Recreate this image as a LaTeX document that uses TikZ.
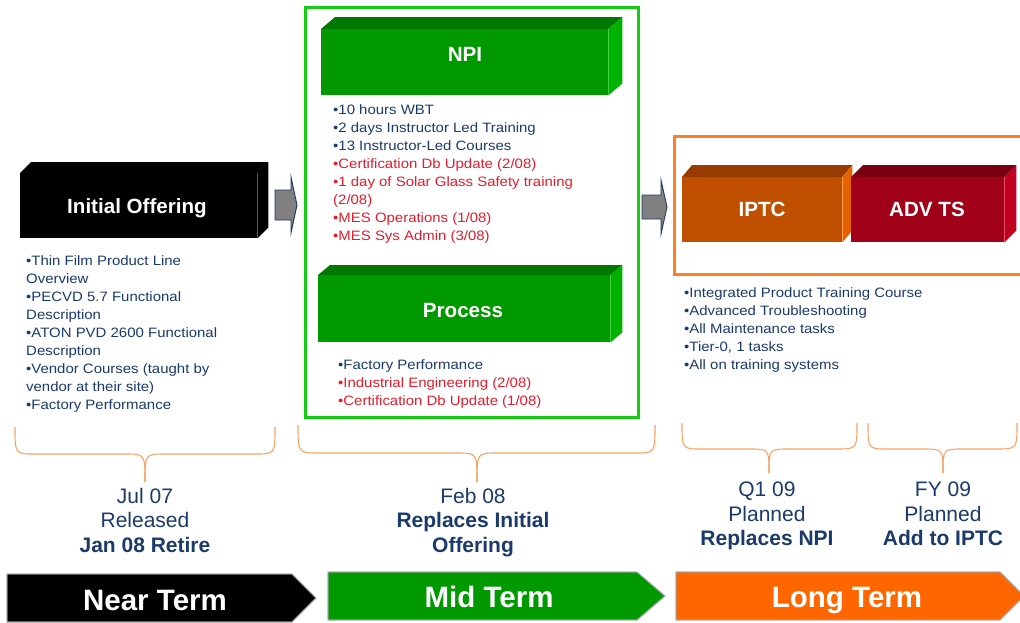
\documentclass[tikz,border=0pt]{standalone}
\usepackage{fontspec}
\setmainfont{Liberation Sans}
\newfontfamily\bodyfont[FakeStretch=1.1]{Liberation Sans}
\usetikzlibrary{calc}

\definecolor{navy}{HTML}{1B3A6C}
\definecolor{alertred}{HTML}{E31D2D}
\definecolor{framegreen}{HTML}{14CC14}
\definecolor{frameorange}{HTML}{FF8020}
\definecolor{braceorange}{HTML}{F7A467}
\definecolor{arrowgray}{HTML}{808080}
\definecolor{arrowedge}{HTML}{1F3864}
\definecolor{grfront}{HTML}{009A00}
\definecolor{grtop}{HTML}{007800}
\definecolor{grside}{HTML}{00B200}
\definecolor{grlight}{HTML}{40D040}
\definecolor{orfront}{HTML}{C04F00}
\definecolor{ortop}{HTML}{963C00}
\definecolor{orside}{HTML}{E46200}
\definecolor{orlight}{HTML}{FFA050}
\definecolor{rdfront}{HTML}{A00018}
\definecolor{rdtop}{HTML}{78000F}
\definecolor{rdside}{HTML}{C2001F}
\definecolor{rdlight}{HTML}{E8506A}
\definecolor{bannergreen}{HTML}{009900}
\definecolor{bannerorange}{HTML}{FF6600}

\tikzset{
  face/.style={draw=none, inner sep=0pt, anchor=north west},
  boxtitle/.style={anchor=base, inner sep=0pt, text=white,
    font=\fontsize{20.6}{24}\selectfont\bfseries},
  bullets/.style={anchor=north west, inner sep=0pt, align=left, text=navy,
    font=\bodyfont\fontsize{13.6}{18}\selectfont},
  datelabel/.style={anchor=north, inner sep=0pt, align=center, text=navy,
    font=\fontsize{21}{24.5}\selectfont},
  bannertext/.style={anchor=base, inner sep=0pt, text=white,
    font=\fontsize{29.5}{32}\selectfont\bfseries},
  brace/.style={draw=braceorange, line width=1.1pt},
  blockarrow/.style={fill=arrowgray, draw=arrowedge, line width=0.9pt, line join=miter},
  frame/.style={line width=3pt},
  banner/.style={draw=gray!70, line width=0.8pt}
}

% top and side faces of a box whose front face is the node #1
% #2,#3: depth offset; #4 top colour; #5 side colour; #6 edge highlight
\newcommand\prismfaces[6]{%
  \fill[#4] (#1.north west) -- ++(#2,#3) -- ($(#1.north east)+(#2,#3)$)
    -- (#1.north east) -- cycle;
  \fill[#5] (#1.north east) -- ++(#2,#3) -- ($(#1.south east)+(#2,#3)$)
    -- (#1.south east) -- cycle;
  \draw[#6, line width=1pt] (#1.north east) -- (#1.south east);}

% curly brace opening upwards: left x, tip x, right x, top y, bar y, tip y, radius
\newcommand\underbracket[7]{%
  \draw[brace] (#1,#4) .. controls (#1,#5) .. ({#1+#7},#5) -- ({#2-#7},#5)
    .. controls (#2,#5) .. (#2,#6);
  \draw[brace] (#3,#4) .. controls (#3,#5) .. ({#3-#7},#5) -- ({#2+#7},#5)
    .. controls (#2,#5) .. (#2,#6);}

\begin{document}
\begin{tikzpicture}[x=1pt, y=-1pt]
\path[use as bounding box, clip] (0,0) rectangle (1020,622);
\fill[white] (0,0) rectangle (1020,622);

% ---------- near term: initial offering ----------
\node[face, fill=black, minimum width=237pt, minimum height=65pt] (initial) at (20,173) {};
\prismfaces{initial}{11}{-11}{black}{black}{gray!70!black}
\node[boxtitle] (initialtitle) at (137,213) {Initial Offering};

\node[bullets] (initiallist) at (26,255) {%
  •Thin Film Product Line\\
  Overview\\
  •PECVD 5.7 Functional\\
  Description\\
  •ATON PVD 2600 Functional\\
  Description\\
  •Vendor Courses (taught by\\
  vendor at their site)\\
  •Factory Performance};

% ---------- mid term frame ----------
\draw[frame, draw=framegreen] (305,7) rectangle (638,417);

\node[face, fill=grfront, minimum width=287pt, minimum height=66pt] (npi) at (321,29) {};
\prismfaces{npi}{14}{-12}{grtop}{grside}{grlight}
\node[boxtitle] (npititle) at (465,61) {NPI};

\node[bullets] (npilist) at (333,104) {%
  •10 hours WBT\\
  •2 days Instructor Led Training\\
  •13 Instructor-Led Courses\\
  \textcolor{alertred}{•Certification Db Update (2/08)}\\
  \textcolor{alertred}{•1 day of Solar Glass Safety training}\\
  \textcolor{alertred}{(2/08)}\\
  \textcolor{alertred}{•MES Operations (1/08)}\\
  \textcolor{alertred}{•MES Sys Admin (3/08)}};

\node[face, fill=grfront, minimum width=292pt, minimum height=67pt] (process) at (318,275) {};
\prismfaces{process}{12}{-10}{grtop}{grside}{grlight}
\node[boxtitle] (processtitle) at (463,317) {Process};

\node[bullets] (processlist) at (338,359) {%
  •Factory Performance\\
  \textcolor{alertred}{•Industrial Engineering (2/08)}\\
  \textcolor{alertred}{•Certification Db Update (1/08)}};

% ---------- long term frame ----------
\draw[frame, draw=frameorange] (674,136) rectangle (1030,274);

\node[face, fill=orfront, minimum width=160pt, minimum height=65pt] (iptc) at (682,177) {};
\prismfaces{iptc}{10}{-12}{ortop}{orside}{orlight}
\node[face, fill=rdfront, minimum width=153pt, minimum height=65pt] (advts) at (851,177) {};
\prismfaces{advts}{12}{-12}{rdtop}{rdside}{rdlight}
\node[boxtitle] (iptctitle) at (762,216) {IPTC};
\node[boxtitle] (advtstitle) at (927,216) {ADV TS};

\node[bullets] (iptclist) at (684,287) {%
  •Integrated Product Training Course\\
  •Advanced Troubleshooting\\
  •All Maintenance tasks\\
  •Tier-0, 1 tasks\\
  •All on training systems};

% ---------- block arrows between stages ----------
\draw[blockarrow] (275,190) -- (291,190) -- (291,177) -- (297,205) -- (291,233)
  -- (291,220) -- (275,220) -- cycle;
\draw[blockarrow] (642,195) -- (661,195) -- (661,180) -- (667,207) -- (661,234)
  -- (661,219) -- (642,219) -- cycle;

% ---------- braces and release dates ----------
\underbracket{15}{145}{275}{427}{454}{482}{20}
\underbracket{298}{477}{655}{425}{453}{482}{20}
\underbracket{682}{769}{857}{423}{449}{473}{20}
\underbracket{868}{943}{1017}{423}{449}{473}{20}

\node[datelabel] (neardate) at (145,488) {Jul 07\\Released\\\textbf{Jan 08 Retire}};
\node[datelabel] (middate) at (473,488) {Feb 08\\\textbf{Replaces Initial}\\\textbf{Offering}};
\node[datelabel] (q1date) at (767,482) {Q1 09\\Planned\\\textbf{Replaces NPI}};
\node[datelabel] (fydate) at (943,482) {FY 09\\Planned\\\textbf{Add to IPTC}};

% ---------- term banners ----------
\fill[banner, fill=black] (7,574) -- (292,574) -- (316,598) -- (292,622) -- (7,622) -- cycle;
\fill[banner, fill=bannergreen] (328,572) -- (637,572) -- (665,596) -- (637,620) -- (328,620) -- cycle;
\fill[banner, fill=bannerorange] (676,572) -- (1000,572) -- (1024,596) -- (1000,620) -- (676,620) -- cycle;
\draw[banner] (7,574) -- (292,574) -- (316,598) -- (292,622) -- (7,622) -- cycle;
\draw[banner] (328,572) -- (637,572) -- (665,596) -- (637,620) -- (328,620) -- cycle;
\draw[banner] (676,572) -- (1000,572) -- (1024,596) -- (1000,620) -- (676,620) -- cycle;

\node[bannertext] (nearterm) at (155,610) {Near Term};
\node[bannertext] (midterm) at (489,607) {Mid Term};
\node[bannertext] (longterm) at (847,607) {Long Term};
\end{tikzpicture}
\end{document}
